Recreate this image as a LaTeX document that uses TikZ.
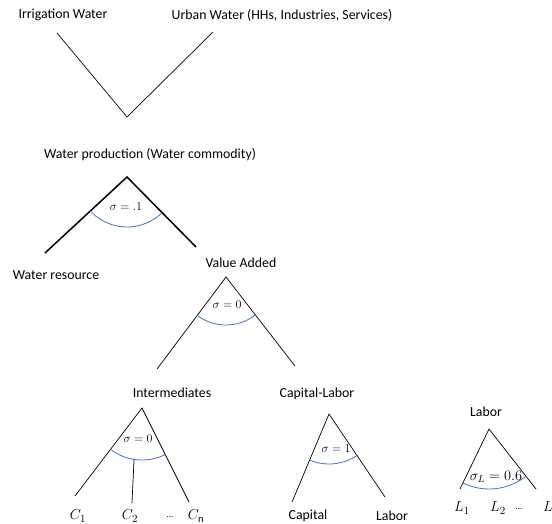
\documentclass[tikz,border=0pt]{standalone}
\usepackage{fontspec}
\setmainfont{Carlito}
\usetikzlibrary{calc}
\begin{document}
\begin{tikzpicture}[x=1pt,y=-1pt,
  lbl/.style={font=\fontsize{13.8}{15}\selectfont, inner sep=0pt, anchor=center},
  sig/.style={font=\fontsize{12.8}{14}\selectfont, inner sep=0pt, anchor=center},
  var/.style={font=\fontsize{15}{17}\selectfont, inner sep=0pt, anchor=center},
  branch/.style={line width=0.7pt, black},
  thickbranch/.style={line width=1.5pt, black},
  elast/.style={line width=0.8pt, draw={rgb,255:red,68;green,114;blue,196}}]
\useasboundingbox (0,0) rectangle (552,524);
% labels
\node[lbl] (irr) at (63,15) {Irrigation Water};
\node[lbl] (urb) at (282,15) {Urban Water (HHs, Industries, Services)};
\node[lbl] (wp) at (150,155) {Water production (Water commodity)};
\node[lbl] (wr) at (56,275) {Water resource};
\node[lbl] (va) at (241,263) {Value Added};
\node[lbl] (int) at (172,393) {Intermediates};
\node[lbl] (cl) at (317,394) {Capital-Labor};
\node[lbl] (cap) at (308,516) {Capital};
\node[lbl] (lab) at (392,516) {Labor};
\node[lbl] (labr) at (486,412) {Labor};
% top V
\coordinate (v1) at (57,33);
\coordinate (v0) at (127,117);
\coordinate (v2) at (213,32);
\draw[branch] (v1) -- (v0) -- (v2);
% water production tree
\coordinate (wpa) at (127,177);
\coordinate (wpl) at (45,253);
\coordinate (wpr) at (196,247);
\draw[thickbranch] (wpl) -- (wpa) -- (wpr);
\draw[elast] (wpa) ++(137.2:50) arc[start angle=137.2, end angle=45.4, radius=50];
\node[sig] (s1) at (126,207) {$\sigma = .1$};
% value added tree
\coordinate (vaa) at (226,277);
\coordinate (val) at (157,369);
\coordinate (var) at (295,366);
\draw[branch] (val) -- (vaa) -- (var);
\draw[elast] (vaa) ++(126.9:48) arc[start angle=126.9, end angle=52.2, radius=48];
\node[sig] (s2) at (227,305) {$\sigma = 0$};
% intermediates tree
\coordinate (ia) at (142,408);
\coordinate (il) at (75,496);
\coordinate (ir) at (189,502);
\coordinate (imt) at ($(ia)+(98.8:52)$);
\coordinate (imb) at (132,503);
\draw[branch] (il) -- (ia) -- (ir);
\draw[branch] (imt) -- (imb);
\draw[elast] (ia) ++(127.3:52) arc[start angle=127.3, end angle=63.4, radius=52];
\node[sig] (s3) at (138,439) {$\sigma = 0$};
\node[var] (c1) at (78,516) {$C_1$};
\node[var] (c2) at (130,516) {$C_2$};
\node[var] (cd) at (170,517) {\fontsize{9}{10}\selectfont ...};
\node[var] (cn) at (196,516) {$C_{\mathrm{n}}$};
% capital-labor tree
\coordinate (cla) at (329,414);
\coordinate (cll) at (292,502);
\coordinate (clr) at (385,497);
\draw[branch] (cll) -- (cla) -- (clr);
\draw[elast] (cla) ++(112.8:50) arc[start angle=112.8, end angle=56, radius=50];
\node[sig] (s4) at (336,449) {$\sigma = 1$};
% labor tree
\coordinate (la) at (489,429);
\coordinate (ll) at (460,489);
\coordinate (lr) at (536,489);
\draw[branch] (ll) -- (la) -- (lr);
\draw[elast] (la) ++(115.8:60) arc[start angle=115.8, end angle=51.9, radius=60];
\node[font=\fontsize{14}{16}\selectfont, inner sep=0pt] (s5) at (496,477) {$\sigma_L = 0.6$};
\node[var] (l1) at (462,508) {$L_1$};
\node[var] (l2) at (498,508) {$L_2$};
\node[var] (ld) at (519,509) {\fontsize{9}{10}\selectfont ...};
\node[var, anchor=west] (ln) at (543,508) {$L_n$};
\end{tikzpicture}
\end{document}
